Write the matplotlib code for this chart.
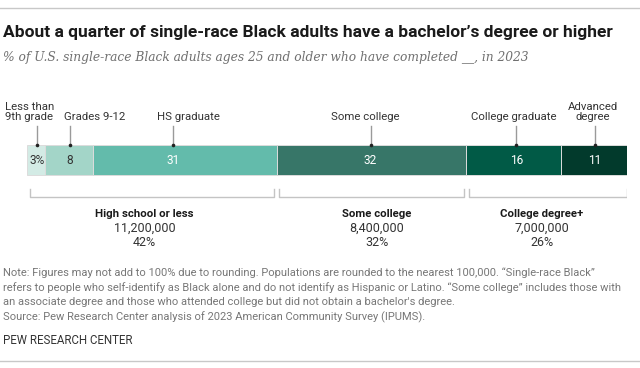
import matplotlib
matplotlib.use("Agg")
import matplotlib.pyplot as plt
from matplotlib import font_manager as fm

# ---------------- data ----------------
categories = ["Less than\n9th grade", "Grades 9-12", "HS graduate", "Some college",
              "College graduate", "Advanced\ndegree"]
values = [3, 8, 31, 32, 16, 11]
value_labels = ["3%", "8", "31", "32", "16", "11"]
colors = ["#d3ebe5", "#a3d5c8", "#63bbab", "#377668", "#015a46", "#023a2c"]
text_colors = ["#333333", "#333333", "#ffffff", "#ffffff", "#ffffff", "#ffffff"]

groups = ["High school or less", "Some college", "College degree+"]
group_pops = ["11,200,000", "8,400,000", "7,000,000"]
group_pcts = ["42%", "32%", "26%"]
group_members = [(0, 3), (3, 4), (4, 6)]

title = "About a quarter of single-race Black adults have a bachelor\u2019s degree or higher"
subtitle = "% of U.S. single-race Black adults ages 25 and older who have completed __, in 2023"
notes = [
    "Note: Figures may not add to 100% due to rounding. Populations are rounded to the nearest 100,000. \u201cSingle-race Black\u201d",
    "refers to people who self-identify as Black alone and do not identify as Hispanic or Latino. \u201cSome college\u201d includes those with",
    "an associate degree and those who attended college but did not obtain a bachelor's degree.",
    "Source: Pew Research Center analysis of 2023 American Community Survey (IPUMS).",
]
brand = "PEW RESEARCH CENTER"

# ---------------- fonts ----------------
names = {f.name for f in fm.fontManager.ttflist}
sans = "Liberation Sans Narrow" if "Liberation Sans Narrow" in names else "Roboto"
body = "Roboto"
serif = "DejaVu Serif"

W, H = 640, 368
fig = plt.figure(figsize=(W / 100, H / 100), dpi=100)
renderer = fig.canvas.get_renderer()

# full-figure pixel axes for text
pax = fig.add_axes([0, 0, 1, 1])
pax.set_xlim(0, W)
pax.set_ylim(H, 0)
pax.axis("off")


def fit_text(ax, x, y, s, width_px, size0, **kw):
    t = ax.text(x, y, s, fontsize=size0, **kw)
    w = t.get_window_extent(renderer=renderer).width
    t.set_fontsize(size0 * width_px / w)
    return t


pax.plot([0, W], [7.5, 7.5], color="#c8c8c8", lw=1)
pax.plot([0, W], [360.5, 360.5], color="#c8c8c8", lw=1)

fit_text(pax, 3, 32, title, 611, 10, family=sans, weight="bold", color="#1a1a1a",
         va="center", ha="left")
fit_text(pax, 3, 58, subtitle, 530, 9, family=serif, style="italic", color="#707070",
         va="center", ha="left")

t1 = fit_text(pax, 3, 287.5, notes[1], 619, 7, family=body, color="#777777",
              va="center", ha="left")
nfs = t1.get_fontsize()
for i, line in enumerate(notes):
    if i == 1:
        continue
    pax.text(3, 273 + i * 14.6, line, fontsize=nfs, family=body, color="#777777",
             va="center", ha="left")
pax.text(3, 340, brand, fontsize=nfs + 0.3, family=body, color="#333333",
         va="center", ha="left")

# ---------------- bar axes (x in data units, y in pixels) ----------------
x0, x1 = 27.3, 626.7
ax = fig.add_axes([x0 / W, 0, (x1 - x0) / W, 1])
total = sum(values)
ax.set_xlim(0, total)
ax.set_ylim(H, 0)
ax.axis("off")
px = total / (x1 - x0)  # data units per pixel (layout helper)

bar_y, bar_h = 160, 30
lefts = [sum(values[:i]) for i in range(len(values))]
ax.barh([bar_y] * len(values), values, left=lefts, height=bar_h, color=colors,
        edgecolor="#dcdcdc", linewidth=0.7)

# layout nudges (pixels) for leaders/value labels and for category labels
leader_nudge = [0.5, 1, -11.5, -1, 2.5, 0.5]
label_nudge = [-7, 25.5, 3.5, -6, 0, -1]
for i, (v, l) in enumerate(zip(values, lefts)):
    cx = l + v / 2
    lx = cx + leader_nudge[i] * px
    tx = cx + label_nudge[i] * px
    ax.text(lx, bar_y, value_labels[i], ha="center", va="center", fontsize=8.6,
            family=body, color=text_colors[i])
    ax.text(tx, 122, categories[i], ha="center", va="bottom", fontsize=8.2,
            family=body, color="#333333", linespacing=1.05)
    ax.plot([lx, lx], [126, 144], color="#9a9a9a", lw=1)
    ax.plot(lx, 144.5, "o", ms=2.6, color="#222222", mec="none")

# brackets
inset = 0.4
group_nudge = [-7.5, 5, -6]
for gi, (a, b) in enumerate(group_members):
    gl = lefts[a] + inset
    gr = lefts[b - 1] + values[b - 1] - inset
    if b == len(values):
        gr = total
    ax.plot([gl, gl, gr, gr], [189, 196.5, 196.5, 189], color="#c4c4c4", lw=1)
    cx = (gl + gr) / 2 + group_nudge[gi] * px
    ax.text(cx, 214, groups[gi], ha="center", va="center", fontsize=8.2,
            family=body, weight="bold", color="#1a1a1a")
    ax.text(cx, 228, group_pops[gi], ha="center", va="center", fontsize=9,
            family=body, color="#333333")
    ax.text(cx, 242, group_pcts[gi], ha="center", va="center", fontsize=9,
            family=body, color="#333333")

fig.savefig("out.png", dpi=100)
